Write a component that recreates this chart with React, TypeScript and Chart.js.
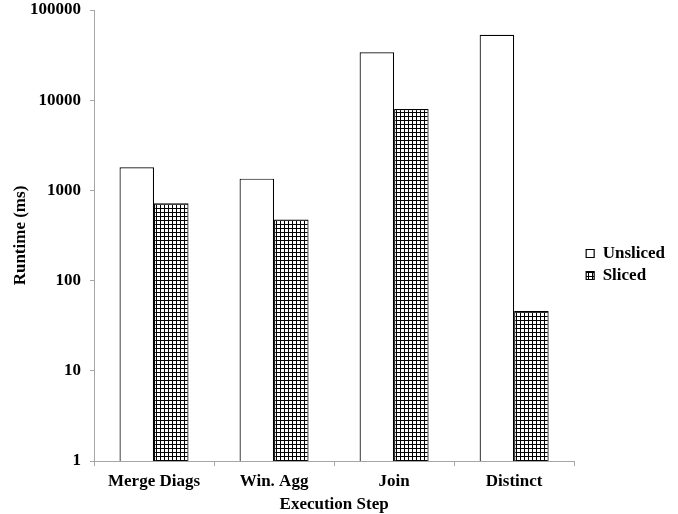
import React, { useEffect, useRef } from "react";
import { Chart, registerables } from "chart.js";

Chart.register(...registerables);

const categories = ["Merge Diags", "Win. Agg", "Join", "Distinct"];
const seriesNames = ["Unsliced", "Sliced"];
const unslicedValues = [1800, 1350, 34000, 53000];
const slicedValues = [720, 475, 8000, 46];
const yTickValues = [1, 10, 100, 1000, 10000, 100000];

function makeGridPattern(): CanvasPattern | string {
  const c = document.createElement("canvas");
  c.width = 4;
  c.height = 4;
  const g = c.getContext("2d");
  if (!g) return "#888";
  g.fillStyle = "#ffffff";
  g.fillRect(0, 0, 4, 4);
  g.fillStyle = "#000000";
  g.fillRect(0, 0, 4, 1);
  g.fillRect(0, 0, 1, 4);
  return g.createPattern(c, "repeat") || "#888";
}

const legendShift = {
  id: "legendShift",
  afterLayout(chart: any) {
    const lg = chart.legend;
    if (!lg) return;
    const w = lg.width;
    lg.left = chart.chartArea.right + 7;
    lg.right = lg.left + w;
  },
};

export default function App() {
  const ref = useRef<HTMLCanvasElement | null>(null);

  useEffect(() => {
    if (!ref.current) return;
    const font = { family: "'Liberation Serif', 'Times New Roman', serif", size: 17, weight: "bold" as const };
    const axisGrey = "#a6a6a6";
    const chart = new Chart(ref.current, {
      type: "bar",
      data: {
        labels: categories,
        datasets: [
          {
            label: seriesNames[0],
            data: unslicedValues,
            backgroundColor: "#ffffff",
            borderColor: "#000000",
            borderWidth: 1.2,
            categoryPercentage: 0.575,
            barPercentage: 1,
          },
          {
            label: seriesNames[1],
            data: slicedValues,
            backgroundColor: makeGridPattern() as any,
            borderColor: "#000000",
            borderWidth: 1.2,
            categoryPercentage: 0.575,
            barPercentage: 1,
          },
        ],
      },
      plugins: [legendShift],
      options: {
        responsive: false,
        animation: false,
        layout: { padding: { left: 6, right: 10, top: 10, bottom: 1 } },
        plugins: {
          tooltip: { enabled: false },
          legend: {
            position: "right",
            title: { display: true, text: "", font: { size: 5, lineHeight: 1.2 }, padding: 0 },
            labels: {
              boxWidth: 8,
              boxHeight: 8,
              padding: 5,
              color: "#000",
              font,
            },
          },
        },
        scales: {
          x: {
            offset: true,
            afterFit: (scale: any) => {
              scale.height = 52;
              scale.paddingLeft = 0;
              scale.paddingRight = 0;
            },
            grid: {
              display: true,
              offset: true,
              drawOnChartArea: false,
              drawTicks: true,
              tickLength: 5,
              color: axisGrey,
            },
            border: { color: axisGrey },
            ticks: { color: "#000", font, padding: 5, maxRotation: 0 },
            title: {
              display: true,
              text: "Execution Step",
              color: "#000",
              font,
              padding: { top: 2, bottom: -2 },
            },
          },
          y: {
            type: "logarithmic",
            min: 1,
            max: 100000,
            afterBuildTicks: (axis: any) => {
              axis.ticks = yTickValues.map((v) => ({ value: v }));
            },
            afterFit: (scale: any) => {
              scale.width = 88;
              scale.paddingTop = 0;
              scale.paddingBottom = 0;
            },
            grid: {
              display: true,
              drawOnChartArea: false,
              drawTicks: true,
              tickLength: 4,
              color: axisGrey,
            },
            border: { color: axisGrey },
            ticks: {
              color: "#000",
              font,
              padding: 9,
              callback: (v: any) => String(v),
            },
            title: {
              display: true,
              text: "Runtime (ms)",
              color: "#000",
              font,
              padding: { top: 4, bottom: 4 },
            },
          },
        },
      },
    });
    return () => chart.destroy();
  }, []);

  return (
    <div style={{ position: "absolute", left: 0, top: 0, width: 678, height: 514, background: "#fff" }}>
      <canvas ref={ref} width={678} height={514} style={{ display: "block" }} />
    </div>
  );
}
